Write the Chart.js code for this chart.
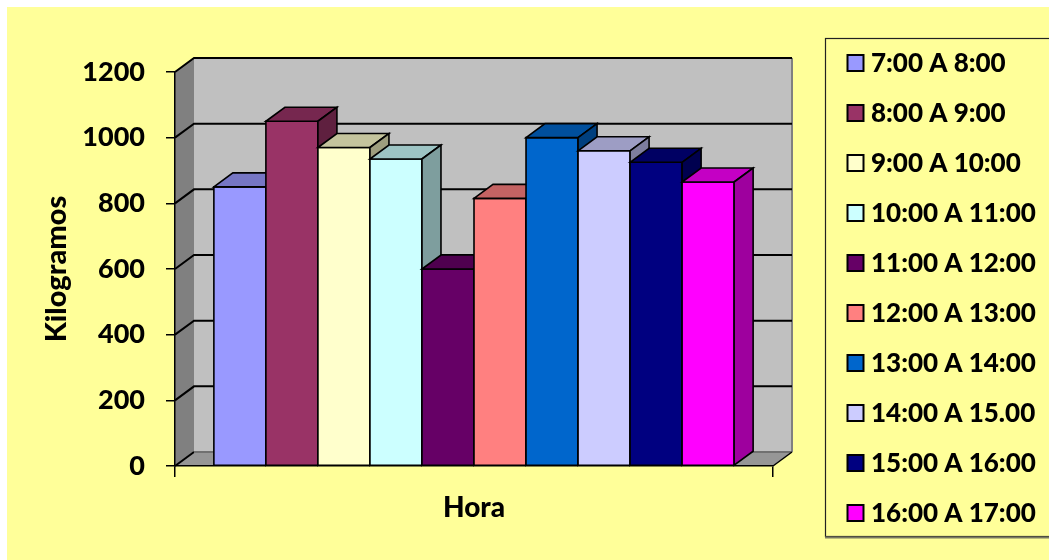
<!DOCTYPE html>
<html>
<head>
<meta charset="utf-8">
<script src="https://cdn.jsdelivr.net/npm/chart.js@4/dist/chart.umd.min.js"></script>
<style>
  html, body { margin: 0; padding: 0; background: #ffffff; }
  #wrap { width: 1049px; height: 560px; }
</style>
</head>
<body>
<div id="wrap"><canvas id="c" width="1049" height="560"></canvas></div>
<script>
// Kilograms handled per hourly slot
const categories = [''];
const seriesLabels = [
  '7:00 A 8:00', '8:00 A 9:00', '9:00 A 10:00', '10:00 A 11:00', '11:00 A 12:00',
  '12:00 A 13:00', '13:00 A 14:00', '14:00 A 15.00', '15:00 A 16:00', '16:00 A 17:00'
];
const seriesValues = [850, 1050, 970, 935, 600, 815, 1000, 960, 925, 865];
const seriesColors = [
  '#9999FF', '#993366', '#FFFFCC', '#CCFFFF', '#660066',
  '#FF8080', '#0066CC', '#CCCCFF', '#000080', '#FF00FF'
];
const yMin = 0, yMax = 1200, yStep = 200;

const FONT = 'Lato, "Open Sans", sans-serif';
const WEIGHT = '900';
const DEPTH_X = 19, DEPTH_Y = -14;

function shade(hex, f) {
  const n = parseInt(hex.slice(1), 16);
  const r = Math.round(((n >> 16) & 255) * f);
  const g = Math.round(((n >> 8) & 255) * f);
  const b = Math.round((n & 255) * f);
  return `rgb(${r},${g},${b})`;
}

function poly(ctx, pts, fill, stroke, lw) {
  ctx.beginPath();
  ctx.moveTo(pts[0][0], pts[0][1]);
  for (let i = 1; i < pts.length; i++) ctx.lineTo(pts[i][0], pts[i][1]);
  ctx.closePath();
  if (fill) { ctx.fillStyle = fill; ctx.fill(); }
  if (stroke) { ctx.strokeStyle = stroke; ctx.lineWidth = lw || 1; ctx.lineJoin = 'miter'; ctx.stroke(); }
}

// Background, walls, floor and back-wall gridlines
const boxPlugin = {
  id: 'box3d',
  beforeDraw(chart) {
    const ctx = chart.ctx;
    const { left: L, right: R, top: T, bottom: B } = chart.chartArea;
    const ys = chart.scales.y;
    const dx = DEPTH_X, dy = DEPTH_Y;
    ctx.save();
    ctx.fillStyle = '#FFFF99';
    ctx.fillRect(7, 7, chart.width - 7, chart.height - 7);

    // back wall
    poly(ctx, [[L + dx, T + dy], [R + dx, T + dy], [R + dx, B + dy], [L + dx, B + dy]], '#C0C0C0');
    // left side wall
    poly(ctx, [[L, T], [L + dx, T + dy], [L + dx, B + dy], [L, B]], '#808080');
    // floor
    poly(ctx, [[L, B], [L + dx, B + dy], [R + dx, B + dy], [R, B]], '#969696');

    // right edge of back wall
    ctx.strokeStyle = '#808080';
    ctx.lineWidth = 2;
    ctx.beginPath();
    ctx.moveTo(R + dx, T + dy);
    ctx.lineTo(R + dx, B + dy);
    ctx.stroke();

    // gridlines across side wall and back wall
    for (let v = yMin; v <= yMax; v += yStep) {
      const y = ys.getPixelForValue(v);
      ctx.lineWidth = 2;
      ctx.strokeStyle = '#000000';
      ctx.beginPath();
      ctx.moveTo(L, y);
      ctx.lineTo(L + dx, y + dy);
      if (v !== yMin) ctx.lineTo(R + dx, y + dy);
      ctx.stroke();
      if (v === yMin) {
        ctx.strokeStyle = '#707070';
        ctx.beginPath();
        ctx.moveTo(L + dx, y + dy);
        ctx.lineTo(R + dx, y + dy);
        ctx.stroke();
      }
    }
    // floor right edge
    ctx.strokeStyle = '#000000';
    ctx.lineWidth = 1.5;
    ctx.beginPath();
    ctx.moveTo(R, B);
    ctx.lineTo(R + dx, B + dy);
    ctx.stroke();
    ctx.restore();
  }
};

// Top and side faces of each bar, drawn left to right so neighbours overlap correctly
const barPlugin = {
  id: 'bars3d',
  afterDatasetsDraw(chart) {
    const ctx = chart.ctx;
    const dx = DEPTH_X, dy = DEPTH_Y;
    ctx.save();
    chart.data.datasets.forEach((ds, i) => {
      const meta = chart.getDatasetMeta(i);
      meta.data.forEach((bar) => {
        const { x, y, base, width } = bar.getProps(['x', 'y', 'base', 'width'], true);
        const x0 = x - width / 2, x1 = x + width / 2;
        const col = ds.backgroundColor;
        poly(ctx, [[x0, y], [x1, y], [x1, base], [x0, base]], col, '#000', 1.6);
        poly(ctx, [[x0, y], [x0 + dx, y + dy], [x1 + dx, y + dy], [x1, y]], shade(col, 0.77), '#000', 1.6);
        poly(ctx, [[x1, y], [x1 + dx, y + dy], [x1 + dx, base + dy], [x1, base]], shade(col, 0.62), '#000', 1.6);
      });
    });
    ctx.restore();
  }
};

// Framed legend on the right
const legendPlugin = {
  id: 'legendBox',
  afterDraw(chart) {
    const ctx = chart.ctx;
    ctx.save();
    ctx.strokeStyle = '#222';
    ctx.lineWidth = 1.2;
    ctx.strokeRect(825.5, 38.5, 240, 498);
    ctx.strokeStyle = '#7a7a60';
    ctx.lineWidth = 2;
    ctx.beginPath();
    ctx.moveTo(825, 537.5);
    ctx.lineTo(1049, 537.5);
    ctx.stroke();

    ctx.font = WEIGHT + ' 26px ' + FONT;
    ctx.textBaseline = 'middle';
    ctx.textAlign = 'left';
    chart.data.datasets.forEach((ds, i) => {
      const cy = 63 + i * 50;
      ctx.fillStyle = ds.backgroundColor;
      ctx.fillRect(847.5, cy - 8, 16, 16);
      ctx.strokeStyle = '#000';
      ctx.lineWidth = 2;
      ctx.strokeRect(847.5, cy - 8, 16, 16);
      ctx.fillStyle = '#000';
      ctx.fillText(ds.label, 871, cy + 1);
    });
    ctx.restore();
  }
};

const datasets = seriesLabels.map((label, i) => ({
  label,
  data: [seriesValues[i]],
  backgroundColor: seriesColors[i],
  borderColor: '#000000',
  borderWidth: 1.5,
  barPercentage: 1,
  categoryPercentage: 0.87
}));

new Chart(document.getElementById('c'), {
  type: 'bar',
  data: { labels: categories, datasets },
  options: {
    responsive: false,
    animation: false,
    layout: { padding: { left: 0, right: 276, top: 72, bottom: 0 } },
    plugins: { legend: { display: false }, tooltip: { enabled: false } },
    scales: {
      x: {
        ticks: { display: false },
        grid: { drawOnChartArea: false, drawTicks: true, tickLength: 11, color: '#000', lineWidth: 1.5 },
        border: { display: true, color: '#000', width: 1.5 },
        title: { display: true, text: 'Hora', color: '#000', font: { family: FONT, size: 28, weight: WEIGHT }, padding: { top: 0, bottom: 35 } },
        afterFit(scale) { scale.height = 94; }
      },
      y: {
        min: yMin, max: yMax,
        ticks: {
          stepSize: yStep, color: '#000', padding: 21,
          font: { family: FONT, size: 27, weight: WEIGHT },
          callback: (v) => String(v)
        },
        grid: { drawOnChartArea: false, drawTicks: true, tickLength: 9, color: '#000', lineWidth: 1.5 },
        border: { display: true, color: '#000', width: 1.5 },
        title: { display: true, text: 'Kilogramos', color: '#000', font: { family: FONT, size: 29, weight: WEIGHT }, padding: { top: 39, bottom: 0 } },
        afterFit(scale) { scale.width = 175; }
      }
    }
  },
  plugins: [boxPlugin, barPlugin, legendPlugin]
});
</script>
</body>
</html>
